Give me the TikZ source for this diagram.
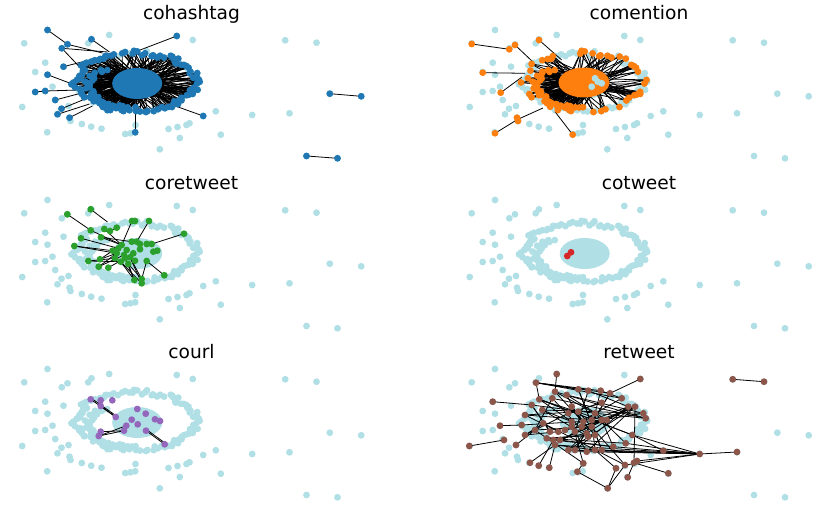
\documentclass[tikz,border=0pt]{standalone}
\usepackage{fontspec}
\setmainfont{DejaVu Sans}
\definecolor{lb}{HTML}{B0DFE5}
\definecolor{tblue}{HTML}{1F77B4}
\definecolor{torange}{HTML}{FF7F0E}
\definecolor{tgreen}{HTML}{2CA02C}
\definecolor{tred}{HTML}{D62728}
\definecolor{tpurple}{HTML}{9467BD}
\definecolor{tbrown}{HTML}{8C564B}
\tikzset{
  edge/.style={draw=black,line width=0.45pt},
  ttl/.style={anchor=base,font=\fontsize{10.6pt}{12pt}\selectfont,inner sep=0pt}
}
\newcommand\dotr{0.068cm}
\newcommand\ringpoint[4]{%
  \pgfmathsetmacro\dec{rnd}%
  \pgfmathsetmacro\aA{360*rnd}\pgfmathsetmacro\rA{sqrt(rnd)}%
  \pgfmathsetmacro\aB{360*rnd}\pgfmathsetmacro\rB{sqrt(rnd)}%
  \pgfmathsetmacro\aC{360*rnd}\pgfmathsetmacro\rC{sqrt(rnd)}%
  \ifcase#1\relax
    \fill[lb] (\px,\py) circle[radius=\dotr];%
  \or
    \ifdim\dec pt<#3pt
      \draw[edge] (\px,\py) -- ({169.7+21*\rA*cos(\aA)},{83.5-12*\rA*sin(\aA)});%
      \ifnum#4>1 \draw[edge] (\px,\py) -- ({169.7+21*\rB*cos(\aB)},{83.5-12*\rB*sin(\aB)});\fi
      \ifnum#4>2 \draw[edge] (\px,\py) -- ({169.7+21*\rC*cos(\aC)},{83.5-12*\rC*sin(\aC)});\fi
    \fi
  \or
    \ifdim\dec pt<#3pt \fill[#2] (\px,\py) circle[radius=\dotr];\fi
  \fi}
\newcommand\ringpass[5]{%
  \pgfmathsetseed{4242}%
  \foreach \i in {1,...,110}{%
    \pgfmathsetmacro\t{\i*3.2727+1.8*rand}%
    \pgfmathsetmacro\rr{1+0.085*rand}%
    \pgfmathsetmacro\px{168.5+60*\rr*cos(\t)}%
    \pgfmathsetmacro\py{82-29*\rr*sin(\t)}%
    \ringpoint{#1}{#2}{#3}{#5}}%
  \foreach \i in {1,...,40}{%
    \pgfmathsetmacro\t{130+\i*3.4+2*rand}%
    \pgfmathsetmacro\rr{1+0.09*rand}%
    \pgfmathsetmacro\px{170+49*\rr*cos(\t)}%
    \pgfmathsetmacro\py{86-23*\rr*sin(\t)}%
    \ringpoint{#1}{#2}{#4}{#5}}%
}
\newcommand\outliers{%
  \foreach \x/\y in {56.7/43.3, 80/30, 94.3/48.3, 100/44.3, 120.7/43.3, 124/39.3, 141.7/35, 209.3/36, 225.3/40, 317.7/40.3, 349/42.7, 77.7/62.7, 96/66.7, 67.7/72, 80/74.7, 67.7/92, 77.7/91, 85/86.7, 87.7/100, 94/108.7, 90/114.3, 101/106, 54.7/107, 102/117.7, 103/121, 114.3/124, 123.7/126.7, 134/128.7, 79.7/132.3, 168/125, 157.7/134, 163/133.3, 167.7/132.3, 192.3/149.3, 201/129, 210/127, 219/125, 222/123.3, 212.3/138, 235.7/116, 248.3/111.3, 253.3/134.7, 284.7/115, 322/113.3, 362.3/93.7, 393.7/96.3, 339/156, 370/158.3}
  {\fill[lb] (\x,\y) circle[radius=\dotr];}}
\newcommand\background{%
  \outliers
  \ringpass{0}{lb}{1}{1}{1}%
  \fill[lb] (169.7,83.5) ellipse[x radius=0.5cm,y radius=0.31cm];}
\newcommand\coldots[2]{\foreach \x/\y in {#2}{\fill[#1] (\x,\y) circle[radius=\dotr];}}
\begin{document}
\begin{tikzpicture}[x=0.02cm,y=-0.02cm]
\useasboundingbox (0,0) rectangle (831,509);
% ---------------- cohashtag
\begin{scope}[shift={(-32.5,0)}]
  \node[ttl] (t1) at (224,19.7) {cohashtag};
  \background
  \ringpass{1}{tblue}{0.8}{0.8}{3}
  \foreach \a/\b/\c/\d in {80/30/100/44.3, 100/44.3/135/53, 94.3/48.3/140/52, 94.3/48.3/115/70, 124/39.3/142/52, 209.3/36/170/51, 96/66.7/122/60, 80/74.7/110/86, 67.7/92/77.7/91, 77.7/91/112/90, 87.7/100/118/92, 94/108.7/120/98, 90/114.3/122/104, 102/117.7/125/106, 235.7/116/205/105, 167.7/132.3/167.7/112, 362.3/93.7/393.7/96.3, 339/156/370/158.3}
    {\draw[edge] (\a,\b) -- (\c,\d);}
  \ringpass{2}{tblue}{0.8}{0.8}{3}
  \fill[tblue] (169.7,83.5) ellipse[x radius=0.5cm,y radius=0.31cm];
  \coldots{tblue}{80/30, 100/44.3, 94.3/48.3, 124/39.3, 209.3/36, 96/66.7, 80/74.7, 67.7/92, 77.7/91, 87.7/100, 94/108.7, 90/114.3, 102/117.7, 235.7/116, 167.7/132.3, 362.3/93.7, 393.7/96.3, 339/156, 370/158.3}
\end{scope}
% ---------------- comention
\begin{scope}[shift={(415,0)}]
  \node[ttl] (t2) at (224,19.7) {comention};
  \background
  \ringpass{1}{torange}{0.35}{0.9}{3}
  \foreach \a/\b/\c/\d in {56.7/44/94.3/49.3, 124/40/146.7/60, 67.7/72.7/110/73.3, 85.7/92.7/107/77, 80/133.3/102.5/119.5, 102.5/119.5/128/108, 157.7/134.7/140/111.7, 100/45/118/62}
    {\draw[edge] (\a,\b) -- (\c,\d);}
  \ringpass{2}{torange}{0.35}{0.9}{3}
  \fill[torange] (169,82.5) ellipse[x radius=0.51cm,y radius=0.3cm];
  \coldots{lb}{180/78.3, 182.7/81.7, 176.7/86.7, 186.7/83.3}
  \coldots{torange}{56.7/44, 94.3/49.3, 100/45, 124/40, 67.7/72.7, 85.7/92.7, 102/117.7, 103/121, 80/133.3, 157.7/134.7}
\end{scope}
% ---------------- coretweet
\begin{scope}[shift={(-32.5,170)}]
  \node[ttl] (t3) at (224,19.7) {coretweet};
  \background
  \foreach \n/\x/\y in {1/99.8/44.3, 2/123.2/39.3, 3/123.2/60.3, 4/133.5/67.3, 5/113.5/68.3, 6/106.8/76, 7/120.8/91, 8/131.2/96.7, 9/140.8/97.7, 10/132.5/89.3, 11/136.8/59, 12/142.5/61, 13/149.2/57.7, 14/164.5/51, 15/167.5/51, 16/181.5/51, 17/216.5/63.7, 18/196.8/105.3, 19/166.8/110, 20/174.2/109, 21/174.2/113.3, 22/179.2/91, 23/150.8/78.3, 24/154.2/75, 25/159.2/80, 26/164.2/71.7, 27/169.2/71.7, 28/172.5/74, 29/179.2/74, 30/184.2/74, 31/185.8/81.7, 32/189.8/80.7, 33/157.5/88.3, 34/162.5/87.3, 35/165.8/83.3, 36/149.2/83.3, 37/147.5/88.3, 38/153.2/91.7, 39/160.8/94, 40/167.5/90.7, 41/145.2/80.7, 42/156.5/85, 43/172.5/79.3}
    {\coordinate (g\n) at (\x,\y);}
  \coordinate (g2e) at (140,52);
  \foreach \a/\b in {1/3, 2/2e, 5/23, 6/41, 6/36, 3/24, 7/37, 7/38, 8/36, 8/42, 9/33, 10/36, 10/41, 4/24, 14/24, 16/27, 17/30, 18/22, 19/39, 19/33, 19/38, 20/39, 20/34, 21/34, 21/38, 22/20, 12/13, 11/24, 4/26}
    {\draw[edge] (g\a) -- (g\b);}
  \foreach \n in {1,...,43}{\fill[tgreen] (g\n) circle[radius=\dotr];}
\end{scope}
% ---------------- cotweet
\begin{scope}[shift={(415,170)}]
  \node[ttl] (t4) at (224,19.7) {cotweet};
  \background
  \coordinate (c1) at (152.3,86);
  \coordinate (c2) at (156,82.3);
  \draw[edge] (c1) -- (c2);
  \fill[tred] (c1) circle[radius=\dotr];
  \fill[tred] (c2) circle[radius=\dotr];
\end{scope}
% ---------------- courl
\begin{scope}[shift={(-32.5,339)}]
  \node[ttl] (t5) at (224,19.7) {courl};
  \background
  \foreach \n/\x/\y in {1/123.2/60.3, 2/133.2/61.3, 3/144.8/61.3, 4/133.2/67, 5/148.2/78, 6/169.8/70, 7/178.2/74.7, 8/187.5/80.3, 9/192.5/82, 10/164.2/80.7, 11/170.2/85.3, 12/158.8/86.7, 13/156.5/91.7, 14/178.5/91.7, 15/133.2/92.7, 16/131.2/97, 17/197.2/105.3}
    {\coordinate (p\n) at (\x,\y);}
  \foreach \a/\b in {1/5, 4/5, 15/13, 16/13, 16/12, 14/17}
    {\draw[edge] (p\a) -- (p\b);}
  \draw[edge] ([yshift=0.03cm]p14.center) -- ([yshift=0.03cm]p17.center);
  \draw[edge] ([yshift=0.03cm]p1.center) -- ([yshift=0.03cm]p5.center);
  \foreach \n in {1,...,17}{\fill[tpurple] (p\n) circle[radius=\dotr];}
\end{scope}
% ---------------- retweet
\begin{scope}[shift={(415,339)}]
  \node[ttl] (t6) at (224,19.7) {retweet};
  \background
  \foreach \n/\x/\y in {1/141.7/35, 2/121/43.7, 3/225.3/40, 4/77.7/62.7, 5/85/86.7, 6/54.3/107, 7/89/101, 8/101/106, 9/115/123.7, 10/123.7/126.7, 11/134.3/128.7, 12/162.3/132.7, 13/192.7/149.3, 14/201/129.3, 15/212.7/138.3, 16/219/123.7, 17/222/122, 18/253.3/134.3, 19/248.3/111.7, 20/284.7/115, 21/322/113, 22/317.7/40.3, 23/349/42.7, 24/124.3/60.3, 25/140/52.7, 26/151.7/56, 27/163.3/50.3, 28/173.3/51.7, 29/185.7/51.7, 30/195/54.3, 31/206.7/59.3, 32/213.3/67.7, 33/220/67.7, 34/228.3/74.3, 35/230.7/79.3, 36/116.7/66, 37/127.3/71, 38/110/76, 39/106.7/86, 40/128.3/84.3, 41/120/91, 42/135/92.7, 43/131.7/99.3, 44/138.3/101, 45/145/101, 46/140/106, 47/153.3/111, 48/160/111, 49/171.7/112.7, 50/180/111, 51/186.7/111, 52/198.3/107.7, 53/210.7/104.3, 54/217.3/96, 55/168.3/124.3, 56/210/126, 57/153.3/74.3, 58/163.3/72.7, 59/156.7/82.7, 60/168.3/82.7, 61/180/74.3, 62/186.7/81, 63/191.7/81, 64/176.7/81, 65/156.7/87.7, 66/166.7/87.7, 67/176.7/87.7, 68/160/92.7, 69/150/91, 70/171.7/94.3, 71/180/96, 72/156.7/67.7, 73/137.3/59.3, 74/110/96, 75/186.7/63.7, 76/143.3/92.7, 77/173.3/97.7}
    {\coordinate (r\n) at (\x,\y);}
  \foreach \a/\b in {20/19, 20/53, 20/54, 20/52, 20/56, 20/17, 20/21, 20/47, 20/49, 20/51, 20/46, 20/50, 2/27, 2/29, 2/31, 2/24, 2/30, 33/47, 33/49, 33/68, 33/66, 33/16, 32/48, 32/70, 3/30, 4/36, 6/7, 5/39, 1/25, 9/46, 10/44, 11/46, 12/55, 12/13, 13/14, 13/56, 18/16, 19/54, 22/23, 14/50, 15/16, 24/59, 24/62, 36/61, 38/64, 39/63, 37/34, 73/35, 25/61, 26/63, 74/57, 41/67, 43/71, 45/52, 8/40}
    {\draw[edge] (r\a) -- (r\b);}
  \foreach \i in {24,...,77}{%
    \pgfmathtruncatemacro\j{24+mod(\i*17,54)}%
    \draw[edge] (r\i) -- (r\j);}
  \foreach \n in {1,...,77}{\fill[tbrown] (r\n) circle[radius=\dotr];}
\end{scope}
\end{tikzpicture}
\end{document}
